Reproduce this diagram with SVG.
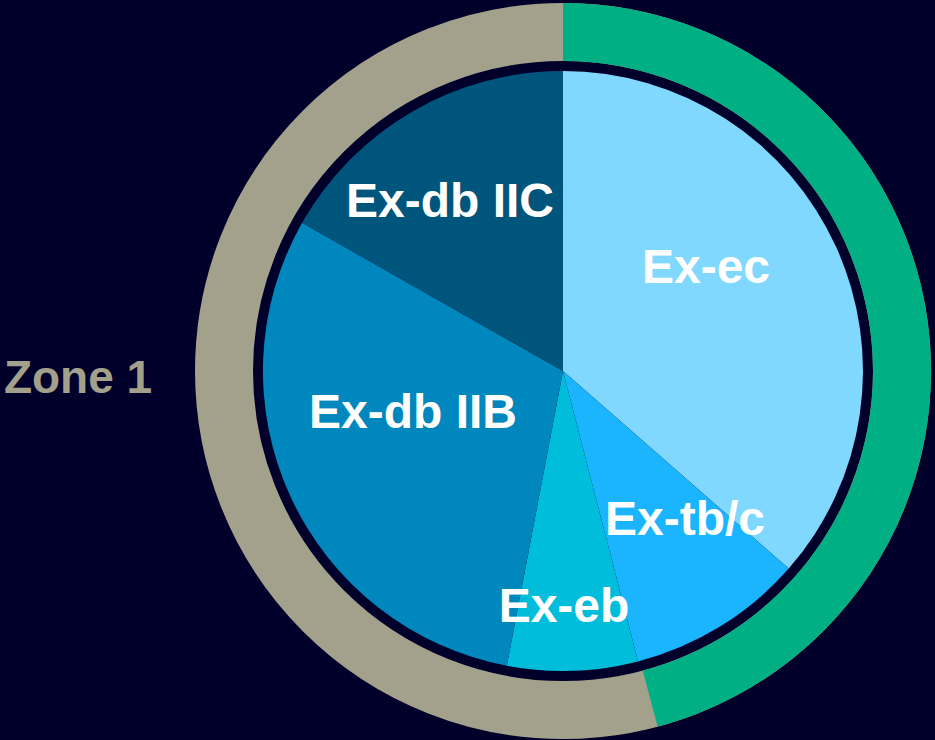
<svg xmlns="http://www.w3.org/2000/svg" width="935" height="740" viewBox="0 0 935 740">
<style>
.lbl{font-family:"Liberation Sans",Arial,sans-serif;font-weight:bold;font-size:48px;fill:#ffffff;text-anchor:middle}
.zone{fill:#A3A08C;font-size:46px}
</style>
<rect x="0" y="0" width="935" height="740" fill="#00002A"/>
<g id="ring">
<circle cx="563" cy="371" r="339" fill="none" stroke="#A3A08C" stroke-width="58"/>
<path d="M563,32 A339,339 0 0 1 650.2,698.6" fill="none" stroke="#00AF84" stroke-width="58"/>
</g>
<g id="slice-ex-ec"><path d="M563,371 L563,71 A300,300 0 0 1 788.7,568.6 Z" fill="#80D8FF"/><text class="lbl" x="706" y="283">Ex-ec</text></g>
<g id="slice-ex-tbc"><path d="M563,371 L788.7,568.6 A300,300 0 0 1 638.1,661.4 Z" fill="#1AB5FE"/></g>
<g id="slice-ex-eb"><path d="M563,371 L638.1,661.4 A300,300 0 0 1 506.8,665.7 Z" fill="#00BEDB"/></g>
<g id="slice-ex-db-iib"><path d="M563,371 L506.8,665.7 A300,300 0 0 1 302.1,222.8 Z" fill="#0087BE"/><text class="lbl" x="413" y="428">Ex-db IIB</text></g>
<g id="slice-ex-db-iic"><path d="M563,371 L302.1,222.8 A300,300 0 0 1 563,71 Z" fill="#00557D"/><text class="lbl" x="450" y="217">Ex-db IIC</text></g>
<g id="labels">
<text class="lbl" x="685" y="535">Ex-tb/c</text>
<text class="lbl" x="564" y="622">Ex-eb</text>
<text class="lbl zone" x="78" y="393">Zone 1</text>
</g>
<g id="connectors"></g>
</svg>
